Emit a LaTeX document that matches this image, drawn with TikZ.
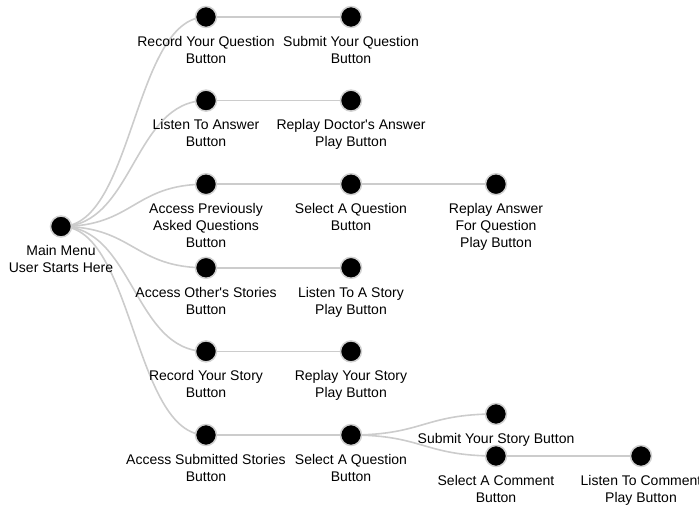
\documentclass[tikz,border=0pt]{standalone}
\usepackage{fontspec}
\setmainfont{Liberation Sans}
\usetikzlibrary{backgrounds}
\tikzset{
  dot/.style={circle,fill=black,draw=black!18,line width=1.5pt,minimum size=21pt,inner sep=0pt},
  lbl/.style={anchor=north,inner sep=0pt,align=center,font=\fontsize{14}{17}\selectfont},
  link/.style={draw=black!20,line width=1.6pt},
}
\begin{document}
\begin{tikzpicture}[x=1pt,y=-1pt]
\useasboundingbox (0,0) rectangle (699,505);
% nodes
\node[dot] (m) at (61,226.5) {};
\node[dot] (a1) at (206,17) {};
\node[dot] (a2) at (206,100.6) {};
\node[dot] (a3) at (206,184.2) {};
\node[dot] (a4) at (206,267.8) {};
\node[dot] (a5) at (206,351.4) {};
\node[dot] (a6) at (206,435) {};
\node[dot] (b1) at (351,17) {};
\node[dot] (b2) at (351,100.6) {};
\node[dot] (b3) at (351,184.2) {};
\node[dot] (b4) at (351,267.8) {};
\node[dot] (b5) at (351,351.4) {};
\node[dot] (b6) at (351,435) {};
\node[dot] (c3) at (496,184.2) {};
\node[dot] (c6a) at (496,414) {};
\node[dot] (c6b) at (496,456) {};
\node[dot] (d6) at (641,456) {};
% labels
\node[lbl] (tm) at (61,245) {Main Menu\\User Starts Here};
\node[lbl] (ta1) at (206,36) {Record Your Question\\Button};
\node[lbl] (ta2) at (206,119.6) {Listen To Answer\\Button};
\node[lbl] (ta3) at (206,203.2) {Access Previously\\Asked Questions\\Button};
\node[lbl] (ta4) at (206,286.8) {Access Other\textquotesingle s Stories\\Button};
\node[lbl] (ta5) at (206,370.4) {Record Your Story\\Button};
\node[lbl] (ta6) at (206,454) {Access Submitted Stories\\Button};
\node[lbl] (tb1) at (351,36) {Submit Your Question\\Button};
\node[lbl] (tb2) at (351,119.6) {Replay Doctor\textquotesingle s Answer\\Play Button};
\node[lbl] (tb3) at (351,203.2) {Select A Question\\Button};
\node[lbl] (tb4) at (351,286.8) {Listen To A Story\\Play Button};
\node[lbl] (tb5) at (351,370.4) {Replay Your Story\\Play Button};
\node[lbl] (tb6) at (351,454) {Select A Question\\Button};
\node[lbl] (tc3) at (496,203.2) {Replay Answer\\For Question\\Play Button};
\node[lbl] (tc6a) at (496,433) {Submit Your Story Button};
\node[lbl] (tc6b) at (496,475) {Select A Comment\\Button};
\node[lbl] (td6) at (641,475) {Listen To Comment\\Play Button};
% links
\begin{pgfonlayer}{background}
\foreach \t in {a1,a2,a3,a4,a5,a6}{
  \draw[link] (m.center) .. controls +(72.5,0) and +(-72.5,0) .. (\t.center);
}
\foreach \s/\t in {a1/b1,a2/b2,a3/b3,a4/b4,a5/b5,a6/b6,b3/c3,c6b/d6}{
  \draw[link] (\s.center) -- (\t.center);
}
\foreach \t in {c6a,c6b}{
  \draw[link] (b6.center) .. controls +(72.5,0) and +(-72.5,0) .. (\t.center);
}
\end{pgfonlayer}
\end{tikzpicture}
\end{document}
